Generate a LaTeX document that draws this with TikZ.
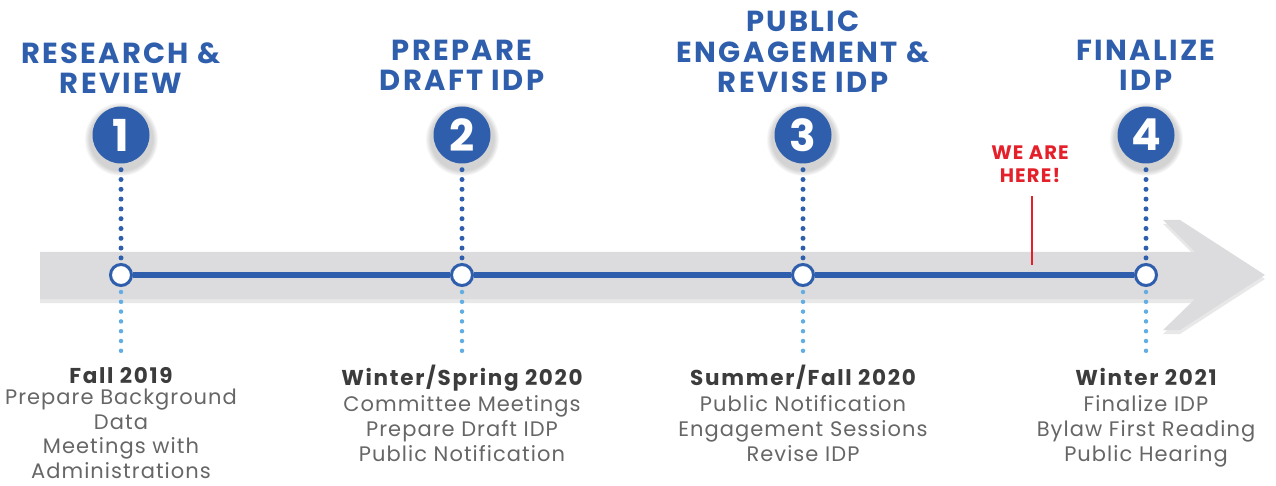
\documentclass[tikz,border=0pt]{standalone}
\usepackage{fontspec}
\setmainfont{Poppins}
\usetikzlibrary{shadows}

\definecolor{idpblue}{HTML}{2F5FAC}
\definecolor{idpsky}{HTML}{62AEE3}
\definecolor{idpband}{HTML}{DCDCDE}
\definecolor{idpdark}{HTML}{3C3C3C}
\definecolor{idpgrey}{HTML}{666666}
\definecolor{idpred}{HTML}{E4202A}

\begin{document}
\begin{tikzpicture}[x=1pt,y=-1pt,
	stage/.style={circle,fill=idpblue,text=white,minimum size=57pt,inner sep=0pt,
		font=\bfseries\fontsize{44}{44}\selectfont,
		circular drop shadow={shadow xshift=0pt,shadow yshift=-3pt,shadow scale=1.3,opacity=.35}},
	ring/.style={circle,draw=idpblue,line width=3pt,fill=white,minimum size=21pt,inner sep=0pt},
	heading/.style={align=center,text=idpblue,anchor=south,inner sep=0pt,
		font=\fontsize{29}{30.5}\selectfont\bfseries\addfontfeature{LetterSpace=8}},
	when/.style={text=idpdark,anchor=base,inner sep=0pt,
		font=\fontsize{21.5}{25}\selectfont\bfseries\addfontfeature{LetterSpace=8}},
	tasks/.style={align=center,text=idpgrey,anchor=north,inner sep=0pt,
		font=\fontsize{21}{25.3}\selectfont\addfontfeature{LetterSpace=5}},
	updots/.style={idpblue,line width=5pt,line cap=round,dash pattern=on 0pt off 9.8pt},
	downdots/.style={idpsky,line width=4.5pt,line cap=round,dash pattern=on 0pt off 9.8pt},
	timeline/.style={idpblue,line width=6pt}]
\useasboundingbox (0,0) rectangle (1276,486);

% grey arrow
\fill[idpband,drop shadow={shadow xshift=0pt,shadow yshift=-4pt,opacity=.18}]
	(40,252) -- (1195,252) -- (1163,220) -- (1180,220) -- (1265,275)
	-- (1180,330) -- (1163,330) -- (1195,299) -- (40,299) -- cycle;

% stages
\node[stage] (n1) at (121,135) {1};
\node[stage] (n2) at (462,135) {2};
\node[stage] (n3) at (803,135) {3};
\node[stage] (n4) at (1146,135) {4};

\node[ring] (r1) at (121,275) {};
\node[ring] (r2) at (462,275) {};
\node[ring] (r3) at (803,275) {};
\node[ring] (r4) at (1146,275) {};

\draw[timeline] (r1) -- (r2);
\draw[timeline] (r2) -- (r3);
\draw[timeline] (r3) -- (r4);

\coordinate (l1) at (121,352);
\coordinate (l2) at (462,352);
\coordinate (l3) at (803,352);
\coordinate (l4) at (1146,352);

\foreach \i in {1,...,4}{
	\draw[updots] ([yshift=-6pt]n\i.south) -- ([yshift=5pt]r\i.north);
	\draw[downdots] ([yshift=-5pt]r\i.south) -- (l\i);
}

% headings
\node[heading] (t1) at (121,94) {RESEARCH \&\\REVIEW};
\node[heading] (t2) at (462,91) {PREPARE\\DRAFT IDP};
\node[heading] (t3) at (803,93) {PUBLIC\\ENGAGEMENT \&\\REVISE IDP};
\node[heading] (t4) at (1146,91) {FINALIZE\\IDP};

% we are here
\node[align=center,text=idpred,inner sep=0pt,
	font=\fontsize{19.5}{23}\selectfont\bfseries\addfontfeature{LetterSpace=6}]
	(here) at (1030,164) {WE ARE\\HERE!};
\coordinate (mark) at (1032,265);
\draw[idpred,line width=1.5pt] (1032,196) -- (mark);

% dates and tasks
\node[when] (d1) at (121,383) {Fall 2019};
\node[when] (d2) at (462,385) {Winter/Spring 2020};
\node[when] (d3) at (803,385) {Summer/Fall 2020};
\node[when] (d4) at (1146,385) {Winter 2021};

\node[tasks,font=\fontsize{21}{24.6}\selectfont\addfontfeature{LetterSpace=5}]
	(k1) at (121,389) {Prepare Background\\Data\\Meetings with\\Administrations};
\node[tasks] (k2) at (462,395) {Committee Meetings\\Prepare Draft IDP\\Public Notification};
\node[tasks] (k3) at (803,395) {Public Notification\\Engagement Sessions\\Revise IDP};
\node[tasks] (k4) at (1146,395) {Finalize IDP\\Bylaw First Reading\\Public Hearing};
\end{tikzpicture}
\end{document}
